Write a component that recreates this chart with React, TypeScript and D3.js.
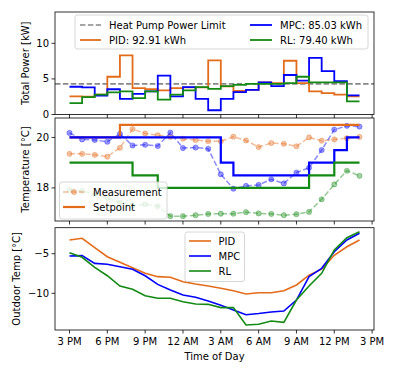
import * as d3 from "d3";

// hourly samples, hour 0 = 3 PM
const hours = d3.range(24);
const tickHours = [0, 3, 6, 9, 12, 15, 18, 21, 24];
const tickLabels = ["3 PM", "6 PM", "9 PM", "12 AM", "3 AM", "6 AM", "9 AM", "12 PM", "3 PM"];

const pidPower = [2.55, 2.5, 2.8, 5.3, 8.3, 3.7, 3.55, 3.4, 3.7, 3.8, 3.8, 7.6, 3.95, 3.3, 3.45, 4.5, 4.4, 7.55, 4.4, 3.25, 3.0, 2.8, 2.55, 2.55];
const mpcPower = [3.9, 3.8, 2.65, 3.55, 2.2, 2.9, 3.25, 5.45, 2.55, 3.85, 2.2, 0.6, 2.2, 3.15, 3.45, 4.5, 4.0, 5.55, 4.75, 7.95, 6.1, 4.7, 2.7, 2.7];
const rlPower = [1.6, 2.45, 2.8, 3.1, 3.25, 2.3, 3.25, 2.1, 2.8, 3.4, 3.85, 3.6, 4.0, 4.15, 4.3, 4.3, 4.3, 4.4, 5.3, 4.5, 4.5, 4.5, 1.85, 1.85];
const powerLimit = 4.3;

const pidSetpoint = [20, 20, 20, 20, 20.5, 20.5, 20.5, 20.5, 20.5, 20.5, 20.5, 20.5, 20.5, 20.5, 20.5, 20.5, 20.5, 20.5, 20.5, 20.5, 20.5, 20.5, 20.5, 20.5];
const mpcSetpoint = [20, 20, 20, 20, 20, 20, 20, 20, 20, 20, 20, 20, 19, 18.5, 18.5, 18.5, 18.5, 18.5, 18.5, 19, 19, 19.5, 20, 20];
const rlSetpoint = [19, 19, 19, 19, 19, 18.5, 18.5, 18, 18, 18, 18, 18, 18, 18, 18, 18, 18, 18, 18, 18.5, 18.5, 19, 19, 19];

const pidMeas = [19.35, 19.35, 19.31, 19.24, 19.59, 20.33, 20.16, 20.09, 20.02, 19.95, 19.9, 19.85, 19.85, 20.03, 19.88, 19.62, 19.78, 19.75, 19.65, 20.0, 19.87, 19.92, 19.97, 20.02];
const mpcMeas = [20.18, 19.92, 19.9, 19.83, 20.14, 19.68, 19.71, 19.66, 20.19, 19.58, 19.6, 19.55, 18.54, 17.97, 18.08, 18.12, 18.34, 18.18, 18.61, 18.8, 19.5, 20.31, 20.46, 20.43];
const rlMeas = [17.92, 17.88, 17.75, 17.6, 17.42, 17.3, 17.35, 17.28, 16.88, 16.88, 16.92, 16.97, 16.98, 16.98, 17.04, 16.99, 16.97, 16.92, 16.96, 17.05, 17.55, 18.14, 18.68, 18.48];

const pidOutdoor = [-3.27, -3.06, -4.24, -5.38, -6.09, -6.77, -7.48, -7.9, -7.98, -8.53, -8.83, -9.08, -9.37, -9.67, -10.09, -9.92, -9.92, -9.67, -8.95, -7.7, -6.95, -5.2, -4.12, -3.27];
const mpcOutdoor = [-5.29, -5.25, -6.22, -6.34, -6.64, -6.97, -7.78, -8.87, -9.58, -10.21, -10.5, -10.97, -11.5, -12.1, -12.7, -12.55, -12.36, -12.23, -10.85, -7.9, -6.85, -4.75, -3.27, -2.42];
const rlOutdoor = [-4.87, -5.45, -6.72, -7.78, -9.08, -9.5, -10.3, -10.63, -10.63, -11.06, -11.35, -11.39, -11.8, -11.8, -14.0, -13.9, -13.5, -13.66, -10.85, -9.08, -7.48, -4.53, -2.98, -2.22];

const W = 396;
const H = 374;
const FONT = "DejaVu Sans, sans-serif";
const ORANGE = "#e36c1b";
const BLUE = "#0000ff";
const GREEN = "#138a13";

const left = 55;
const right = 374;
const x = d3.scaleLinear().domain([-1.15, 24.15]).range([left, right]);

const panels = {
  power: { top: 12, bottom: 114.5 },
  temp: { top: 118, bottom: 221 },
  outdoor: { top: 227.7, bottom: 330 },
};

const yPower = d3.scaleLinear().domain([0, 14.4]).range([panels.power.bottom, panels.power.top]);
const yTemp = d3.scaleLinear().domain([16.69, 20.77]).range([panels.temp.bottom, panels.temp.top]);
const yOut = d3.scaleLinear().domain([-14.63, -1.72]).range([panels.outdoor.bottom, panels.outdoor.top]);

const fmt = (v: number) => (v < 0 ? "\u2212" + Math.abs(v) : String(v));

function stepPath(vals: number[], y: d3.ScaleLinear<number, number>) {
  return d3.line<number>().x((_, i) => x(hours[i])).y((d) => y(d)).curve(d3.curveStepAfter)(vals) || "";
}
function linePath(vals: number[], y: d3.ScaleLinear<number, number>) {
  return d3.line<number>().x((_, i) => x(hours[i])).y((d) => y(d))(vals) || "";
}

function Frame({ top, bottom, y, yTicks }: { top: number; bottom: number; y: d3.ScaleLinear<number, number>; yTicks: number[] }) {
  return (
    <g>
      <rect x={left} y={top} width={right - left} height={bottom - top} fill="none" stroke="#000" strokeWidth={0.8} />
      {tickHours.map((h) => (
        <line key={h} x1={x(h)} x2={x(h)} y1={bottom} y2={bottom + 3.5} stroke="#000" strokeWidth={0.8} />
      ))}
      {yTicks.map((t) => (
        <g key={t}>
          <line x1={left - 3.5} x2={left} y1={y(t)} y2={y(t)} stroke="#000" strokeWidth={0.8} />
          <text x={left - 6} y={y(t)} textAnchor="end" dominantBaseline="central" fontSize={10}>
            {fmt(t)}
          </text>
        </g>
      ))}
    </g>
  );
}

function Markers({ vals, color }: { vals: number[]; color: string }) {
  return (
    <g>
      <path d={linePath(vals, yTemp)} fill="none" stroke={color} strokeOpacity={0.45} strokeWidth={1.5} strokeDasharray="5.5,2.4" />
      {vals.map((v, i) => (
        <circle key={i} cx={x(hours[i])} cy={yTemp(v)} r={2.6} fill={color} fillOpacity={0.4} stroke={color} strokeOpacity={0.4} strokeWidth={0.8} />
      ))}
    </g>
  );
}

export default function App() {
  const clipId = (k: string) => `clip-${k}`;
  return (
    <svg width={W} height={H} style={{ position: "absolute", left: 0, top: 0, background: "#fff" }} fontFamily={FONT}>
      <defs>
        {Object.entries(panels).map(([k, p]) => (
          <clipPath id={clipId(k)} key={k}>
            <rect x={left} y={p.top} width={right - left} height={p.bottom - p.top} />
          </clipPath>
        ))}
      </defs>

      {/* power panel */}
      <g clipPath={`url(#${clipId("power")})`}>
        <line x1={left} x2={right} y1={yPower(powerLimit)} y2={yPower(powerLimit)} stroke="#888" strokeWidth={1.6} strokeDasharray="5.5,2.4" />
        <path d={stepPath(pidPower, yPower)} fill="none" stroke={ORANGE} strokeWidth={1.8} />
        <path d={stepPath(mpcPower, yPower)} fill="none" stroke={BLUE} strokeWidth={1.8} />
        <path d={stepPath(rlPower, yPower)} fill="none" stroke={GREEN} strokeWidth={1.8} />
      </g>
      <Frame top={panels.power.top} bottom={panels.power.bottom} y={yPower} yTicks={[0, 5, 10]} />
      <g fontSize={10}>
        <rect x={75} y={15} width={293} height={34} rx={2.5} fill="#fff" fillOpacity={0.8} stroke="#ccc" strokeWidth={0.8} />
        <line x1={80} x2={101} y1={25} y2={25} stroke="#888" strokeWidth={1.6} strokeDasharray="5.5,2.4" />
        <text x={109} y={25} dominantBaseline="central">Heat Pump Power Limit</text>
        <line x1={80} x2={101} y1={40} y2={40} stroke={ORANGE} strokeWidth={1.8} />
        <text x={109} y={40} dominantBaseline="central">PID: 92.91 kWh</text>
        <line x1={250} x2={272} y1={25} y2={25} stroke={BLUE} strokeWidth={1.8} />
        <text x={280} y={25} dominantBaseline="central">MPC: 85.03 kWh</text>
        <line x1={250} x2={272} y1={40} y2={40} stroke={GREEN} strokeWidth={1.8} />
        <text x={280} y={40} dominantBaseline="central">RL: 79.40 kWh</text>
      </g>
      <text transform={`translate(25,${(panels.power.top + panels.power.bottom) / 2}) rotate(-90)`} textAnchor="middle" dominantBaseline="central" fontSize={10}>
        Total Power [kW]
      </text>

      {/* temperature panel */}
      <g clipPath={`url(#${clipId("temp")})`}>
        <Markers vals={pidMeas} color={ORANGE} />
        <Markers vals={mpcMeas} color={BLUE} />
        <Markers vals={rlMeas} color={GREEN} />
        <path d={stepPath(pidSetpoint, yTemp)} fill="none" stroke={ORANGE} strokeWidth={2.2} />
        <path d={stepPath(mpcSetpoint, yTemp)} fill="none" stroke={BLUE} strokeWidth={2.2} />
        <path d={stepPath(rlSetpoint, yTemp)} fill="none" stroke={GREEN} strokeWidth={2.2} />
      </g>
      <Frame top={panels.temp.top} bottom={panels.temp.bottom} y={yTemp} yTicks={[18, 20]} />
      <g fontSize={10}>
        <rect x={59.5} y={182} width={107.5} height={37} rx={2.5} fill="#fff" fillOpacity={0.8} stroke="#ccc" strokeWidth={0.8} />
        <line x1={63} x2={85} y1={192} y2={192} stroke={ORANGE} strokeOpacity={0.45} strokeWidth={1.5} strokeDasharray="5.5,2.4" />
        <circle cx={74} cy={192} r={2.6} fill={ORANGE} fillOpacity={0.4} stroke={ORANGE} strokeOpacity={0.4} strokeWidth={0.8} />
        <text x={93} y={192} dominantBaseline="central">Measurement</text>
        <line x1={63} x2={85} y1={207} y2={207} stroke={ORANGE} strokeWidth={2.2} />
        <text x={93} y={207} dominantBaseline="central">Setpoint</text>
      </g>
      <text transform={`translate(25,${(panels.temp.top + panels.temp.bottom) / 2}) rotate(-90)`} textAnchor="middle" dominantBaseline="central" fontSize={10}>
        Temperature [°C]
      </text>

      {/* outdoor panel */}
      <g clipPath={`url(#${clipId("outdoor")})`}>
        <path d={linePath(pidOutdoor, yOut)} fill="none" stroke={ORANGE} strokeWidth={1.6} />
        <path d={linePath(mpcOutdoor, yOut)} fill="none" stroke={BLUE} strokeWidth={1.6} />
        <path d={linePath(rlOutdoor, yOut)} fill="none" stroke={GREEN} strokeWidth={1.6} />
      </g>
      <Frame top={panels.outdoor.top} bottom={panels.outdoor.bottom} y={yOut} yTicks={[-10, -5]} />
      <g fontSize={10}>
        <rect x={185} y={232} width={59.5} height={49.5} rx={2.5} fill="#fff" fillOpacity={0.8} stroke="#ccc" strokeWidth={0.8} />
        {[
          ["PID", ORANGE],
          ["MPC", BLUE],
          ["RL", GREEN],
        ].map(([name, c], i) => (
          <g key={name}>
            <line x1={189} x2={211} y1={241 + i * 15} y2={241 + i * 15} stroke={c} strokeWidth={1.6} />
            <text x={218.5} y={241 + i * 15} dominantBaseline="central">{name}</text>
          </g>
        ))}
      </g>
      <text transform={`translate(16,${(panels.outdoor.top + panels.outdoor.bottom) / 2}) rotate(-90)`} textAnchor="middle" dominantBaseline="central" fontSize={10}>
        Outdoor Temp [°C]
      </text>

      {tickHours.map((h, i) => (
        <text key={h} x={x(h)} y={341.5} textAnchor="middle" dominantBaseline="central" fontSize={10}>
          {tickLabels[i]}
        </text>
      ))}
      <text x={(left + right) / 2} y={356.7} textAnchor="middle" dominantBaseline="central" fontSize={10}>
        Time of Day
      </text>
    </svg>
  );
}
